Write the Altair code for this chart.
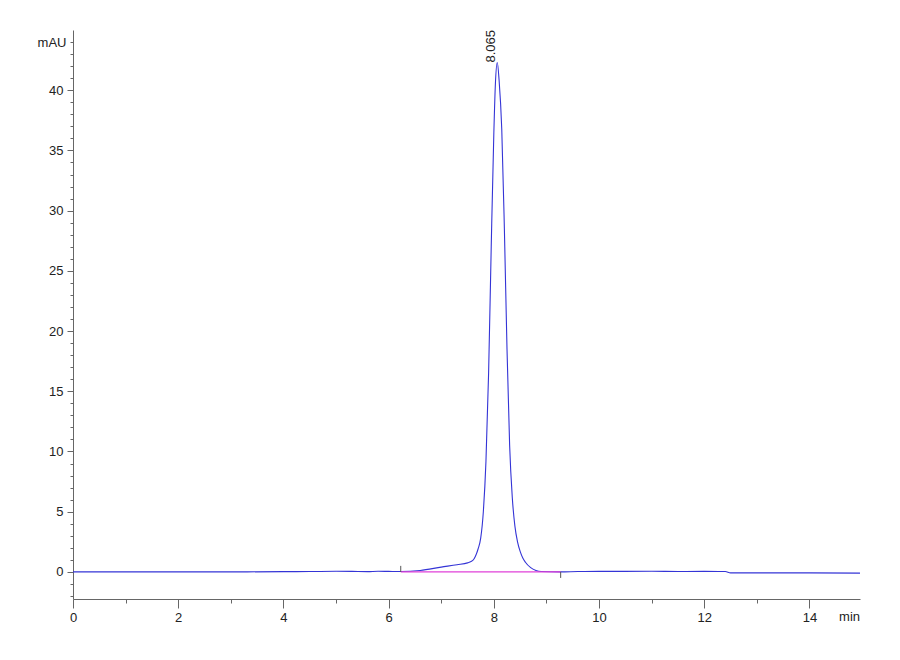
import altair as alt
import pandas as pd

# Chromatogram trace (time in min, signal in mAU)
times = [0.0, 1.0, 2.0, 3.0, 4.0, 4.5, 5.0, 5.3, 5.6, 5.8, 6.0, 6.23, 6.6, 7.0, 7.3,
         7.5, 7.6, 7.65, 7.7, 7.75, 7.8, 7.85, 7.9, 7.95, 8.0, 8.03, 8.065,
         8.10, 8.15, 8.20, 8.25, 8.30, 8.35, 8.40, 8.45, 8.50, 8.55, 8.6, 8.7, 8.8, 8.9,
         9.27, 9.6, 10.0, 11.0, 11.5, 12.0, 12.4, 12.5, 13.0, 14.0, 14.96]
signal = [0.0, 0.0, 0.0, 0.0, 0.02, 0.03, 0.05, 0.04, 0.02, 0.05, 0.04, 0.03, 0.12, 0.4, 0.6,
          0.75, 0.95, 1.3, 1.9, 2.8, 5.0, 9.2, 16.5, 27.0, 36.5, 40.6, 42.3,
          40.8, 36.8, 28.5, 18.5, 10.5, 6.2, 3.8, 2.5, 1.7, 1.15, 0.8, 0.35, 0.12, 0.03,
          0.0, 0.03, 0.04, 0.05, 0.03, 0.04, 0.03, -0.08, -0.08, -0.08, -0.1]

# Integration baseline and its start/end markers
base_t = [6.23, 9.27]
base_v = [0.0, 0.0]
marker_t = [6.23, 9.27]
marker_lo = [0.0, 0.0]
marker_hi = [0.5, -0.5]

# Peak label
peak_t = [8.065]
peak_v = [42.3]
peak_lbl = ["8.065"]

x_min, x_max = 0, 14.96
y_min, y_max = -2.25, 45

FONT = "Liberation Sans Narrow, Arial Narrow, Liberation Sans, Arial"

trace = pd.DataFrame({"t": times, "v": signal})
base = pd.DataFrame({"t": base_t, "v": base_v})
marks = pd.DataFrame({"t": marker_t, "lo": marker_lo, "hi": marker_hi})
peak = pd.DataFrame({"t": peak_t, "v": peak_v, "lbl": peak_lbl})
unit = pd.DataFrame({"t": [x_max], "v": [y_min], "lbl": ["min"]})

x_vals = [i * 0.5 for i in range(0, 30)]
y_vals = list(range(-2, 45))

xscale = alt.Scale(domain=[x_min, x_max], nice=False, zero=False)
yscale = alt.Scale(domain=[y_min, y_max], nice=False, zero=False)

xaxis = alt.Axis(
    values=x_vals, title=None, grid=False, format="d",
    labelExpr="datum.value % 2 === 0 ? format(datum.value, 'd') : ''",
    labelFlush=False, labelOverlap=False,
    tickSize={"condition": {"test": "datum.value % 2 === 0", "value": 9}, "value": 4},
    labelPadding=3, labelFont=FONT, labelFontSize=13, labelColor="#222222",
    domainColor="#666666", tickColor="#666666", domainWidth=1, tickWidth=1,
)
yaxis = alt.Axis(
    values=y_vals, title=None, grid=False, format="d",
    labelExpr="datum.value === 44 ? 'mAU' : ((datum.value % 5 === 0 && datum.value >= 0) ? format(datum.value, 'd') : '')",
    labelOverlap=False, labelFlush=False,
    tickSize={"condition": {"test": "datum.value % 5 === 0 && datum.value >= 0", "value": 6}, "value": 3},
    labelPadding=4, labelFont=FONT, labelFontSize=13, labelColor="#222222",
    domainColor="#666666", tickColor="#666666", domainWidth=1, tickWidth=1,
)


def X(field):
    return alt.X(field, type="quantitative", scale=xscale, axis=xaxis)


def Y(field):
    return alt.Y(field, type="quantitative", scale=yscale, axis=yaxis)


line = alt.Chart(trace).mark_line(color="#3434d6", strokeWidth=1.1, interpolate="monotone").encode(
    x=X("t"), y=Y("v"),
)

bl = alt.Chart(base).mark_line(color="#e040d8", strokeWidth=1.3).encode(
    x=X("t"), y=Y("v")
)

ticks = alt.Chart(marks).mark_rule(color="#555555", strokeWidth=1).encode(
    x=X("t"), y=Y("lo"), y2="hi:Q"
)

plabel = alt.Chart(peak).mark_text(angle=270, align="left", baseline="middle",
                                   font="Liberation Sans, Arial", fontSize=13,
                                   color="#222222", dy=-6).encode(
    x=X("t"), y=Y("v"), text="lbl:N"
)

ulabel = alt.Chart(unit).mark_text(align="right", baseline="top", font=FONT,
                                   fontSize=13, color="#222222", dy=12).encode(
    x=X("t"), y=Y("v"), text="lbl:N"
)

chart = alt.layer(line, bl, ticks, plabel, ulabel).properties(
    width=787, height=569,
    background="white",
    autosize=alt.AutoSizeParams(type="none"),
    padding={"left": 65, "top": 22, "right": 30, "bottom": 45},
).configure_view(strokeWidth=0, stroke="transparent")

chart.save("out.html", embed_options={"renderer": "svg", "actions": False})
